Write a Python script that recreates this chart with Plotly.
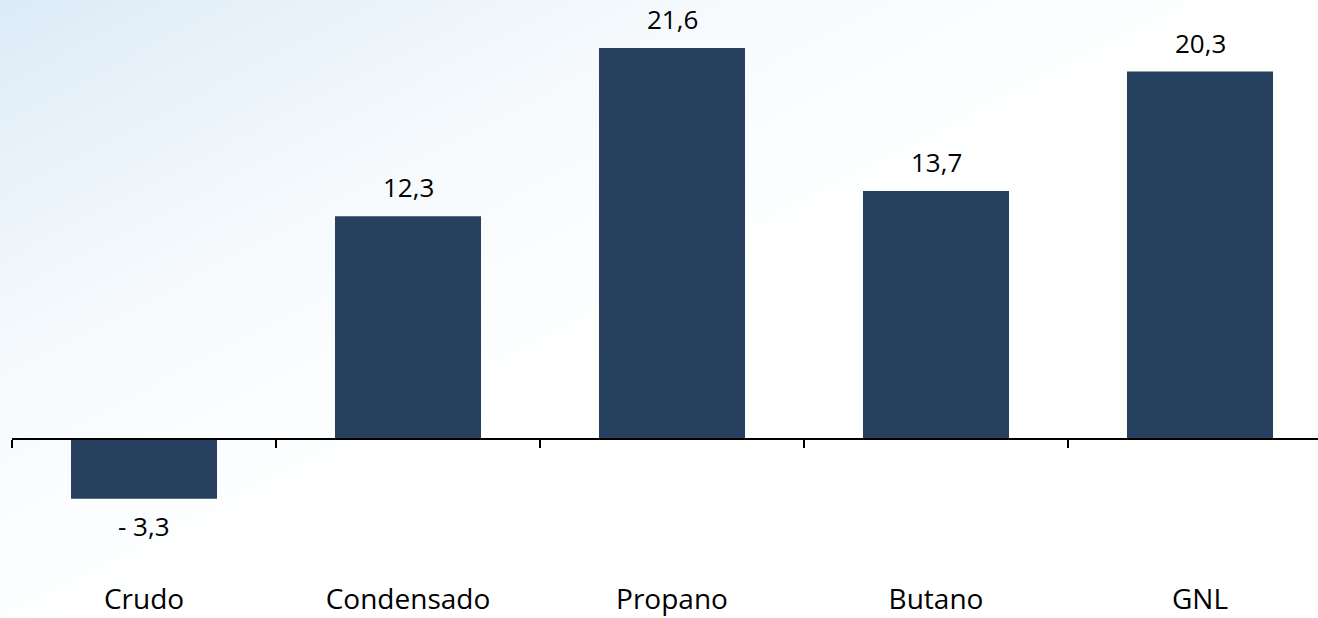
import plotly.graph_objects as go

categories = ["Crudo", "Condensado", "Propano", "Butano", "GNL"]
values = [-3.3, 12.3, 21.6, 13.7, 20.3]

def fmt(v):
    s = f"{abs(v):.1f}".replace(".", ",")
    return ("- " + s) if v < 0 else s

BAR_COLOR = "#27405f"
FONT = "Open Sans, Noto Sans, sans-serif"

W, H = 1318, 618
ML, MB, MT = 12, 38, 0
plot_h = H - MB - MT
zero_px = 439  # pixel row of zero line
px_per_unit = 391 / 21.6
y_top = (zero_px - MT) / px_per_unit
y_bot = -(plot_h - (zero_px - MT)) / px_per_unit
n = len(categories)
x_range = [-0.5, -0.5 + (W - ML) / 264.0]

bg_svg = (
    "data:image/svg+xml;utf8,"
    "<svg xmlns='http://www.w3.org/2000/svg' width='1318' height='618'>"
    "<defs><linearGradient id='g' x1='0' y1='0' x2='1' y2='0.9'>"
    "<stop offset='0' stop-color='%23dcebf7'/>"
    "<stop offset='0.3' stop-color='%23f6fafd'/>"
    "<stop offset='0.55' stop-color='%23ffffff'/>"
    "<stop offset='1' stop-color='%23ffffff'/>"
    "</linearGradient></defs>"
    "<rect width='1318' height='618' fill='url(%23g)'/></svg>"
)

fig = go.Figure()
fig.add_trace(go.Bar(
    x=categories, y=values, marker=dict(color=BAR_COLOR, line=dict(width=0)),
    width=0.553, showlegend=False, hoverinfo="skip",
))
# helper trace for the zero-line axis with boundary ticks
fig.add_trace(go.Scatter(x=categories, y=[0] * n, xaxis="x2", yaxis="y",
                         mode="none", showlegend=False, hoverinfo="skip"))

annotations = []
for c, v in zip(categories, values):
    annotations.append(dict(
        x=c, y=v, xref="x", yref="y", text=fmt(v), showarrow=False,
        yanchor="bottom" if v >= 0 else "top",
        yshift=9 if v >= 0 else -7,
        font=dict(family=FONT, size=26, color="#000000"),
    ))

fig.update_layout(
    width=W, height=H,
    margin=dict(l=ML, r=0, t=MT, b=MB, pad=0, autoexpand=False),
    paper_bgcolor="#ffffff", plot_bgcolor="rgba(0,0,0,0)",
    font=dict(family=FONT, size=28, color="#000000"),
    bargap=0.447,
    annotations=annotations,
    images=[dict(source=bg_svg, xref="paper", yref="paper", x=-ML / (W - ML), y=1,
                 sizex=W / (W - ML), sizey=H / plot_h, sizing="stretch",
                 xanchor="left", yanchor="top", layer="below")],
    xaxis=dict(type="category", range=x_range, showline=False, showgrid=False,
               zeroline=False, ticks="", ticklabelstandoff=0, automargin=False,
               tickfont=dict(family=FONT, size=28, color="#000000")),
    xaxis2=dict(type="category", range=x_range, overlaying="x", anchor="free",
                position=1 - (zero_px - MT) / plot_h, side="bottom",
                showline=True, linecolor="#000000", linewidth=1.5,
                ticks="outside", ticklen=8, tickwidth=1.5, tickcolor="#000000",
                tickson="boundaries", showticklabels=False, showgrid=False,
                zeroline=False, automargin=False),
    yaxis=dict(range=[y_bot, y_top], visible=False, showgrid=False, zeroline=False,
               automargin=False),
)

fig.write_html("out.html", config={"displayModeBar": False},
               post_script="document.body.style.margin='0';document.body.style.overflow='hidden';")
